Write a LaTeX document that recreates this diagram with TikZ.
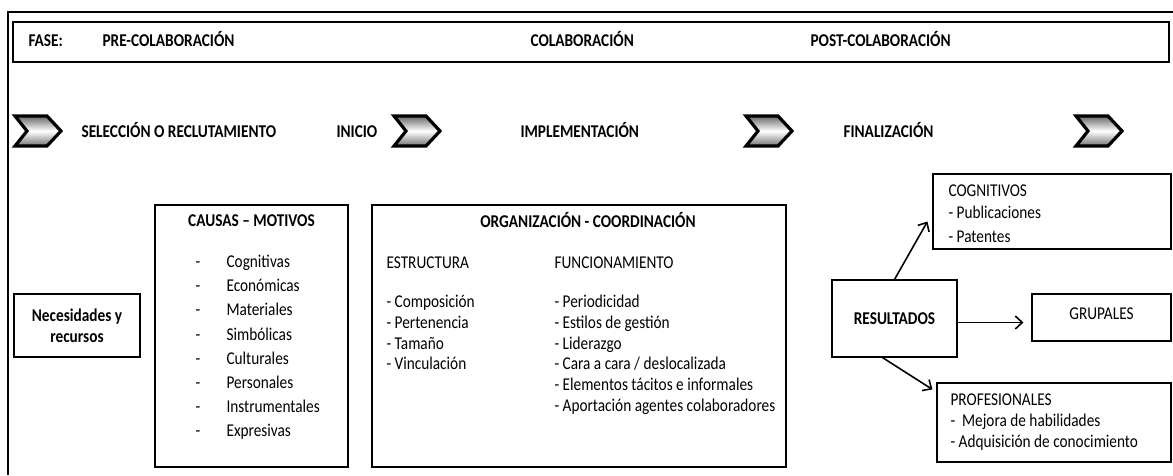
\documentclass[tikz,border=0pt]{standalone}
\usepackage{fontspec}
\setmainfont{Carlito}[FakeStretch=0.85]
\usetikzlibrary{arrows.meta}

\begin{document}
\begin{tikzpicture}[
  x=1pt, y=-1pt,
  font=\fontsize{18}{21}\selectfont,
  frame/.style={draw, line width=1.4pt},
  box/.style={rectangle, draw, line width=1.1pt, inner sep=0pt, align=center},
  head/.style={font=\fontsize{18}{21}\selectfont\bfseries, text height=12.5pt, text depth=3.5pt},
  txt/.style={anchor=west, text height=12.5pt, text depth=3.5pt},
  arrow/.style={-{Straight Barb[length=7pt,width=13pt]}, line width=1.6pt},
  chev/.pic={
    \draw[line width=3.2pt, line join=miter, top color=black!60, bottom color=black!55,
          middle color=white] (-23,-15) -- (9,-15) -- (23,0) -- (9,15)
          -- (-23,15) -- (-11,0) -- cycle;
  }
]
\useasboundingbox (0,0) rectangle (1173,475);

%% outer frame and phase bar
\draw[frame] (1173,12) -- (8,12) -- (8,475);
\node[box, line width=1.3pt, minimum width=1156, minimum height=40] at (591,42) (fase) {};
\node[head, anchor=west] at (25,42)  (fasel) {FASE:};
\node[head, anchor=west] at (99,42)  (pre)   {PRE-COLABORACIÓN};
\node[head, anchor=west] at (527,42) (col)   {COLABORACIÓN};
\node[head, anchor=west] at (807,42) (post)  {POST-COLABORACIÓN};

%% stages
\pic at (38,131)   {chev};
\pic at (417,131)  {chev};
\pic at (769,131)  {chev};
\pic at (1099,131) {chev};
\node[head, anchor=west] at (78,133)  (sel)  {SELECCIÓN O RECLUTAMIENTO};
\node[head, anchor=west] at (333,133) (ini)  {INICIO};
\node[head, anchor=west] at (517,133) (impl) {IMPLEMENTACIÓN};
\node[head, anchor=west] at (840,133) (fin)  {FINALIZACIÓN};

%% left boxes
\node[box, font=\fontsize{18}{21}\selectfont\bfseries, minimum width=126, minimum height=63]
  at (77,325.5) (nec) {Necesidades y\\recursos};

\node[box, minimum width=193, minimum height=262] at (251.5,336) (cau) {};
\node[head] at (251.5,222) (caut) {CAUSAS – MOTIVOS};
\foreach \t [count=\i from 0] in {Cognitivas, Económicas, Materiales, Simbólicas,
    Culturales, Personales, Instrumentales, Expresivas} {
  \node[txt] at (192,263+24.2*\i) (cd\i) {-};
  \node[txt] at (223,263+24.2*\i) (ci\i) {\t};
}

%% organisation box
\node[box, minimum width=414, minimum height=262] at (579,336) (org) {};
\node[head] at (588,223) (orgt) {ORGANIZACIÓN - COORDINACIÓN};
\node[txt] at (383,264) (est) {ESTRUCTURA};
\node[txt] at (551,264) (fun) {FUNCIONAMIENTO};
\foreach \t [count=\i from 0] in {Composición, Pertenencia, Tamaño, Vinculación}
  \node[txt] at (383,303+20.8*\i) (e\i) {- \t};
\foreach \t [count=\i from 0] in {Periodicidad, Estilos de gestión, Liderazgo,
    Cara a cara / deslocalizada, Elementos tácitos e informales,
    Aportación agentes colaboradores}
  \node[txt] at (551,303+20.8*\i) (f\i) {- \t};

%% results
\node[box, font=\fontsize{18}{21}\selectfont\bfseries, minimum width=125, minimum height=77]
  at (894.5,318.5) (res) {RESULTADOS};
\node[box, minimum width=238, minimum height=75] at (1052,211.5) (cog) {};
\node[txt] at (945,192) (cogt) {COGNITIVOS};
\node[txt] at (945,214) (cog1) {- Publicaciones};
\node[txt] at (945,238) (cog2) {- Patentes};
\node[box, minimum width=139, minimum height=47, text height=12.5pt, text depth=9pt]
  at (1101.5,317.5) (grp) {GRUPALES};
\node[box, minimum width=234, minimum height=79] at (1054,422.5) (prof) {};
\node[txt] at (947,401) (proft) {PROFESIONALES};
\node[txt] at (947,422) (prof1) {-\ \ Mejora de habilidades};
\node[txt] at (947,443) (prof2) {- Adquisición de conocimiento};

%% arrows
\draw[arrow] (res.north) -- ([xshift=-5pt, yshift=-10pt]cog.west);
\draw[arrow] ([yshift=-4pt]res.east) -- ([xshift=-8pt, yshift=-5pt]grp.west);
\draw[arrow] ([xshift=-12pt]res.south) -- ([xshift=-4pt, yshift=-7pt]prof.north west);
\end{tikzpicture}
\end{document}
